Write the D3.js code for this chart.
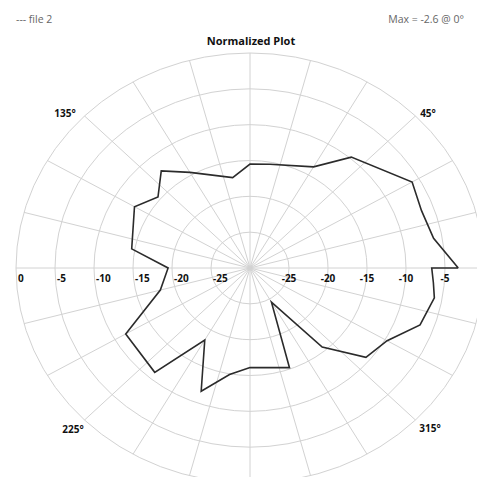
<!DOCTYPE html>
<html>
<head>
<meta charset="utf-8">
<script src="https://cdn.jsdelivr.net/npm/d3@7"></script>
<style>
  body { margin: 0; background: #fff; }
  svg { display: block; font-family: "Open Sans", "Noto Sans", sans-serif; }
</style>
</head>
<body>
<svg id="chart" width="477" height="477"></svg>
<script>
// pattern samples (angle in degrees, level in dB)
const angles = [0, 10, 20, 30, 50, 60, 80, 90, 100, 120, 130, 140, 150, 170, 180, 195,
                210, 230, 240, 250, 260, 270, 290, 300, 310, 320, 330, 340, 350, 355, 360];
const levels = [-3.3, -6.1, -6.6, -6.0, -9.8, -13.7, -15.3, -15.5, -17.2, -14.6, -12.3, -14.6, -12.9, -14.6, -19.5, -18.1,
                -11.6, -11.0, -18.4, -11.7, -14.9, -16.1, -15.2, -24.5, -15.6, -10.6, -9.7, -6.8, -6.0, -6.4, -6.7];

const ringValues = [-25, -20, -15, -10, -5, 0];
const leftLabels = [0, -5, -10, -15, -20, -25];
const rightLabels = [-25, -20, -15, -10, -5];
const spokeAngles = d3.range(0, 360, 15);
const angleLabels = [45, 135, 225, 315];

const svg = d3.select("#chart");
const cx = 250, cy = 268, rx = 234, ry = 215;

// radius as fraction of the outer ring
const r = d3.scaleLinear().domain([-30, 0]).range([0, 1]);
const px = (a, v) => cx + rx * r(v) * Math.cos(a * Math.PI / 180);
const py = (a, v) => cy - ry * r(v) * Math.sin(a * Math.PI / 180);

// header texts
svg.append("text").attr("x", 16).attr("y", 23)
  .attr("font-size", 10.5).attr("fill", "#666").text("---  file 2");
svg.append("text").attr("x", 464).attr("y", 23).attr("text-anchor", "end")
  .attr("font-size", 10.5).attr("fill", "#666").text("Max = -2.6 @ 0°");
svg.append("text").attr("x", 251).attr("y", 45).attr("text-anchor", "middle")
  .attr("font-size", 11).attr("font-weight", "bold").attr("fill", "#111").text("Normalized Plot");

// grid rings
const grid = svg.append("g").attr("fill", "none").attr("stroke", "#d2d2d2").attr("stroke-width", 1);
grid.selectAll("ellipse")
  .data(ringValues)
  .enter().append("ellipse")
  .attr("cx", cx).attr("cy", cy)
  .attr("rx", d => rx * r(d))
  .attr("ry", d => ry * r(d));

// spokes
grid.selectAll("line")
  .data(spokeAngles)
  .enter().append("line")
  .attr("x1", cx).attr("y1", cy)
  .attr("x2", d => px(d, 0))
  .attr("y2", d => py(d, 0));

// ring labels on the horizontal axis
const lab = svg.append("g").attr("font-size", 10).attr("font-weight", "bold").attr("fill", "#111");
lab.selectAll(".lft")
  .data(leftLabels)
  .enter().append("text")
  .attr("class", "lft")
  .attr("x", d => px(180, d) + 2)
  .attr("y", 282)
  .text(d => d);
lab.selectAll(".rgt")
  .data(rightLabels)
  .enter().append("text")
  .attr("class", "rgt")
  .attr("text-anchor", "middle")
  .attr("x", d => px(0, d))
  .attr("y", 282)
  .text(d => d);

// angle labels
const angPos = { 45: [428, 117], 135: [65, 117], 225: [73, 433], 315: [430, 432] };
lab.selectAll(".ang")
  .data(angleLabels)
  .enter().append("text")
  .attr("class", "ang")
  .attr("text-anchor", "middle")
  .attr("x", d => angPos[d][0])
  .attr("y", d => angPos[d][1])
  .text(d => d + "°");

// pattern trace
const pts = angles.map((a, i) => [a, levels[i]]);
const line = d3.line()
  .x(d => px(d[0], d[1]))
  .y(d => py(d[0], d[1]));
svg.append("path")
  .datum(pts.concat([pts[0]]))
  .attr("d", line)
  .attr("fill", "none")
  .attr("stroke", "#2b2b2b")
  .attr("stroke-width", 1.6)
  .attr("stroke-linejoin", "miter");
</script>
</body>
</html>
